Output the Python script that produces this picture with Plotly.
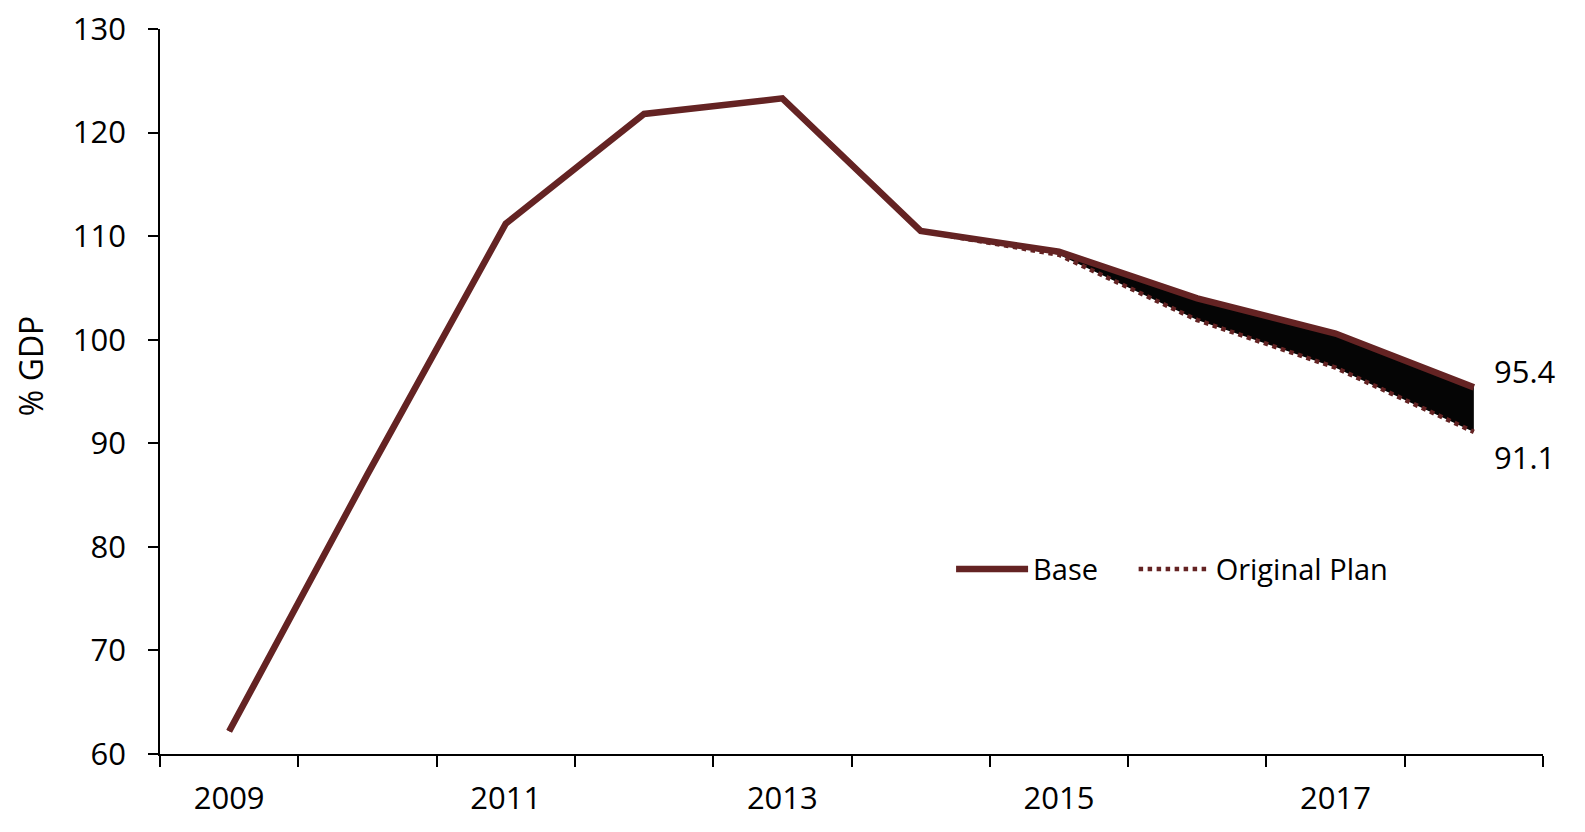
import plotly.graph_objects as go

years = [2009, 2010, 2011, 2012, 2013, 2014, 2015, 2016, 2017, 2018]
base = [62.2, 87.0, 111.2, 121.8, 123.3, 110.5, 108.5, 104.0, 100.6, 95.4]
original_plan = [62.2, 87.0, 111.2, 121.8, 123.3, 110.5, 108.2, 101.9, 97.3, 91.1]
label_years = [2009, 2011, 2013, 2015, 2017]
fill_start = 5  # index of 2014

LINE_COLOR = "#642323"
FONT = "Open Sans"

fig = go.Figure()

# shaded gap between the two paths
fig.add_trace(go.Scatter(x=years[fill_start:], y=original_plan[fill_start:], mode="lines",
                         line=dict(width=0, color="black"), showlegend=False, hoverinfo="skip"))
fig.add_trace(go.Scatter(x=years[fill_start:], y=base[fill_start:], mode="lines",
                         line=dict(width=0, color="black"), fill="tonexty", fillcolor="#050505",
                         showlegend=False, hoverinfo="skip"))

fig.add_trace(go.Scatter(x=years, y=original_plan, mode="lines", name="Original Plan", legend="legend2",
                         line=dict(color=LINE_COLOR, width=4.5, dash="dot")))
fig.add_trace(go.Scatter(x=years, y=base, mode="lines", name="Base", legend="legend",
                         line=dict(color=LINE_COLOR, width=6.5)))

fig.add_annotation(x=years[-1], y=base[-1], text=f"{base[-1]:.1f}", xanchor="left", yanchor="middle",
                   xshift=18, yshift=16, showarrow=False, font=dict(size=31, color="black", family=FONT))
fig.add_annotation(x=years[-1], y=original_plan[-1], text=f"{original_plan[-1]:.1f}", xanchor="left",
                   yanchor="middle", xshift=18, yshift=-25, showarrow=False,
                   font=dict(size=31, color="black", family=FONT))

# y-axis title (placed as annotation to match its off-centre position)
fig.add_annotation(x=0, y=0.535, xref="paper", yref="paper", text="% GDP", textangle=-90,
                   xanchor="center", yanchor="middle", xshift=-130, showarrow=False,
                   font=dict(size=32, color="black", family=FONT))

legend_style = dict(orientation="h", y=0.255, xanchor="left", yanchor="middle",
                    font=dict(size=29), bgcolor="rgba(0,0,0,0)", itemwidth=72)

fig.update_layout(
    width=1577, height=824,
    margin=dict(l=152, r=42, t=21, b=78),
    paper_bgcolor="white", plot_bgcolor="white",
    font=dict(family=FONT, size=31, color="black"),
    showlegend=True,
    legend=dict(x=0.572, **legend_style),
    legend2=dict(x=0.704, **legend_style),
    xaxis=dict(range=[2008.5, 2018.5], tickvals=label_years, ticktext=[str(y) for y in label_years],
               ticks="", showgrid=False, zeroline=False, showline=True, linecolor="black", linewidth=1.5,
               tickfont=dict(size=31), ticklabelstandoff=16, automargin=False, ticklabeloverflow="allow",
               minor=dict(tick0=2008.5, dtick=1, ticks="outside", ticklen=11, tickwidth=1.5,
                          tickcolor="black", showgrid=False)),
    yaxis=dict(range=[60, 130], dtick=10, ticks="outside", ticklen=10, tickwidth=1.5, tickcolor="black",
               showgrid=False, zeroline=False, showline=True, linecolor="black", linewidth=1.5,
               tickfont=dict(size=31), automargin=False, ticklabeloverflow="allow", ticklabelstandoff=16),
)

fig.write_html("out.html")
